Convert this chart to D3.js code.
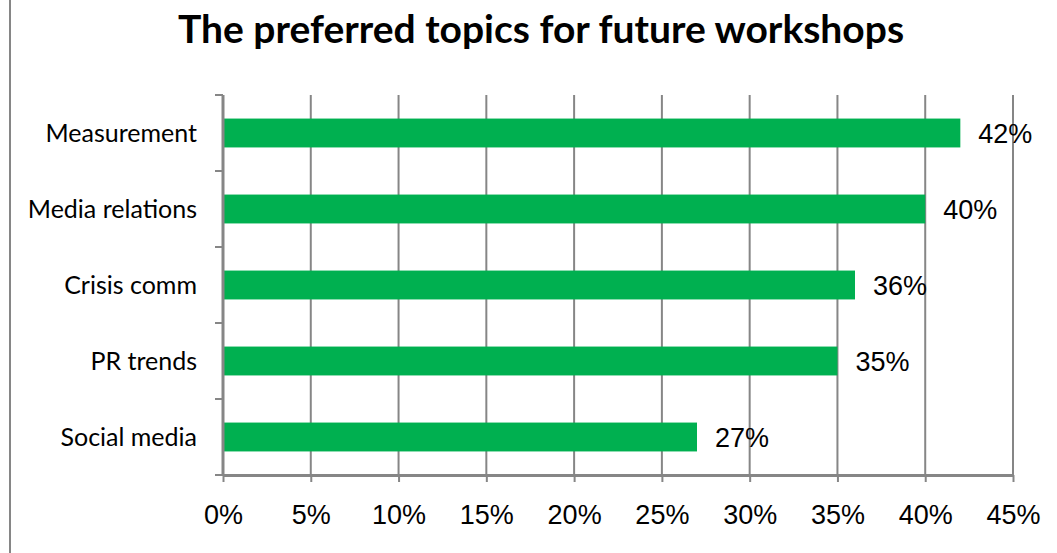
<!DOCTYPE html>
<html>
<head>
<meta charset="utf-8">
<script src="https://cdn.jsdelivr.net/npm/d3@7"></script>
<style>
  html, body { margin: 0; padding: 0; background: #fff; }
  svg { display: block; }
</style>
</head>
<body>
<svg id="chart" width="1057" height="553"></svg>
<script>
// Survey topics and share of respondents (%)
const topics = ["Measurement", "Media relations", "Crisis comm", "PR trends", "Social media"];
const shares = [42, 40, 36, 35, 27];
const xTicks = [0, 5, 10, 15, 20, 25, 30, 35, 40, 45];
const title = "The preferred topics for future workshops";

const svg = d3.select("#chart");
const W = 1057, H = 553;
const plot = { left: 223, right: 1013, top: 95, bottom: 475 };
const gray = "#868686";
const green = "#00B050";

// Frame line on the left edge
svg.append("line")
  .attr("x1", 10).attr("x2", 10).attr("y1", 0).attr("y2", H)
  .attr("stroke", gray).attr("stroke-width", 2);

// Title
svg.append("text")
  .attr("x", 541).attr("y", 43)
  .attr("text-anchor", "middle")
  .attr("font-family", "Lato, 'Open Sans', sans-serif")
  .attr("font-weight", "bold")
  .attr("font-size", 39)
  .attr("fill", "#000")
  .text(title);

const x = d3.scaleLinear().domain([0, 45]).range([plot.left, plot.right]);
const y = d3.scaleBand().domain(topics).range([plot.top, plot.bottom])
  .paddingInner(0.62).paddingOuter(0.31);

// Vertical gridlines
svg.append("g")
  .selectAll("line")
  .data(xTicks.slice(1))
  .join("line")
  .attr("x1", d => x(d)).attr("x2", d => x(d))
  .attr("y1", plot.top).attr("y2", plot.bottom)
  .attr("stroke", gray).attr("stroke-width", 2);

// Bars
svg.append("g")
  .selectAll("rect")
  .data(topics)
  .join("rect")
  .attr("x", x(0))
  .attr("y", d => y(d))
  .attr("width", (d, i) => x(shares[i]) - x(0))
  .attr("height", y.bandwidth())
  .attr("fill", green);

// Value labels
svg.append("g")
  .selectAll("text")
  .data(topics)
  .join("text")
  .attr("x", (d, i) => x(shares[i]) + 18)
  .attr("y", d => y(d) + y.bandwidth() / 2)
  .attr("dy", "0.36em")
  .attr("font-family", "'Liberation Sans', Arial, sans-serif")
  .attr("font-size", 27)
  .attr("fill", "#000")
  .text((d, i) => shares[i] + "%");

// Bottom axis
const xAxis = d3.axisBottom(x)
  .tickValues(xTicks)
  .tickFormat(d => d + "%")
  .tickSizeInner(7).tickSizeOuter(0).tickPadding(23);
const gx = svg.append("g").attr("transform", `translate(0,${plot.bottom})`).call(xAxis);
gx.select(".domain").attr("stroke", gray).attr("stroke-width", 3);
gx.selectAll(".tick line").attr("stroke", gray).attr("stroke-width", 2);
gx.selectAll(".tick text")
  .attr("font-family", "'Liberation Sans', Arial, sans-serif")
  .attr("font-size", 27)
  .attr("fill", "#000");

// Left axis: ticks sit on category boundaries
const bounds = topics.map(t => y(t) - y.step() * y.paddingInner() / 2).concat([plot.bottom]);
const gy = svg.append("g");
gy.append("line")
  .attr("x1", plot.left).attr("x2", plot.left)
  .attr("y1", plot.top).attr("y2", plot.bottom)
  .attr("stroke", gray).attr("stroke-width", 3);
gy.selectAll("line.tk")
  .data(bounds)
  .join("line")
  .attr("class", "tk")
  .attr("x1", plot.left - 8).attr("x2", plot.left)
  .attr("y1", d => d).attr("y2", d => d)
  .attr("stroke", gray).attr("stroke-width", 2);
gy.selectAll("text")
  .data(topics)
  .join("text")
  .attr("x", 197)
  .attr("y", d => y(d) + y.bandwidth() / 2)
  .attr("dy", "0.36em")
  .attr("text-anchor", "end")
  .attr("font-family", "Lato, 'Open Sans', sans-serif")
  .attr("font-size", 25)
  .attr("fill", "#000")
  .text(d => d);
</script>
</body>
</html>
